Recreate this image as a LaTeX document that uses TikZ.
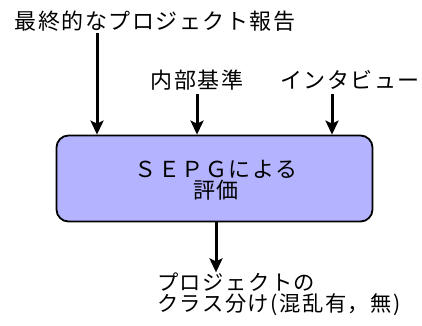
\documentclass[tikz,border=0pt]{standalone}
\usepackage{fontspec}
\newfontfamily\jp[LetterSpace=7]{Noto Sans CJK JP}
\usetikzlibrary{arrows.meta}
\begin{document}
\begin{tikzpicture}[x=1pt,y=1pt,
  lbl/.style={inner sep=0pt,font=\jp\fontsize{22}{21}\selectfont},
  proc/.style={draw=black,line width=1.8pt,fill={rgb,255:red,179;green,179;blue,255},rounded corners=12pt},
  arr/.style={line width=3pt,-{Stealth[length=14pt,width=13pt,inset=3pt]}}]
\useasboundingbox (0,0) rectangle (422,-325);
\node[proc,minimum width=316pt,minimum height=86pt] (box) at (214.5,-178.5) {};
\node[lbl,align=center] (boxt) at (216,-180) {ＳＥＰＧによる\\評価};
\node[lbl] (t1) at (155,-21) {最終的なプロジェクト報告};
\node[lbl] (t2) at (197,-80) {内部基準};
\node[lbl] (t3) at (350,-80) {インタビュー};
\node[lbl,font=\jp\fontsize{21.3}{21}\selectfont,align=left,anchor=west] (t4) at (157,-294) {プロジェクトの\\クラス分け(混乱有，無)};
\coordinate (a1) at (97,-33);
\coordinate (a2) at (197,-94);
\coordinate (a3) at (332,-94);
\coordinate (a4) at (216,-222);
\draw[arr] (a1) -- (a1 |- box.north);
\draw[arr] (a2) -- (a2 |- box.north);
\draw[arr] (a3) -- (a3 |- box.north);
\draw[arr] (a4) -- (a4 |- t4.north);
\end{tikzpicture}
\end{document}
